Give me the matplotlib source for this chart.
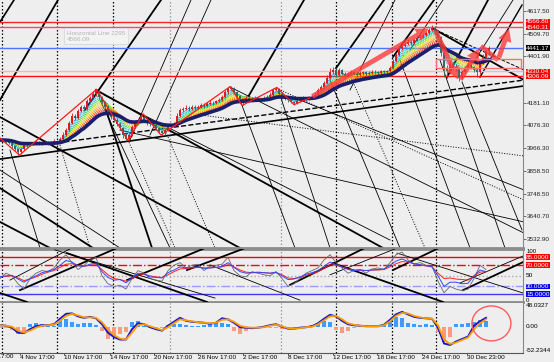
import numpy as np
import pandas as pd
import matplotlib
matplotlib.use("Agg")
import matplotlib.pyplot as plt
from matplotlib.patches import FancyArrowPatch, Rectangle, Ellipse
from matplotlib.transforms import blended_transform_factory as btf
from matplotlib.colors import LinearSegmentedColormap

plt.rcParams['font.family'] = ['Liberation Sans', 'DejaVu Sans']

# ---------------- price data (bars) ----------------
close = [4004,4000,3998,3990,3975,3960,3945,3960,3978,3985,
         3982,3988,3992,3985,3990,3995,3988,3992,3998,3995,
         4010,4030,4050,4085,4120,4110,4140,4160,4150,4190,
         4205,4225,4235,4210,4185,4160,4140,4115,4100,4080,
         4060,4030,4010,4030,4065,4085,4100,4115,4095,4085,
         4080,4075,4060,4045,4035,4050,4065,4070,4080,4120,
         4145,4150,4158,4150,4160,4155,4162,4170,4165,4175,
         4182,4178,4188,4195,4210,4230,4248,4250,4230,4215,
         4198,4195,4205,4200,4198,4205,4200,4195,4205,4210,
         4220,4240,4248,4225,4210,4200,4195,4185,4178,4190,
         4200,4205,4198,4205,4210,4220,4240,4255,4275,4300,
         4325,4335,4315,4335,4320,4310,4318,4325,4320,4315,
         4322,4325,4318,4322,4328,4325,4322,4330,4325,4330,
         4345,4380,4410,4440,4450,4462,4470,4465,4480,4490,
         4495,4505,4512,4525,4535,4520,4495,4420,4340,4330,
         4365,4350,4345,4300,4325,4345,4360,4350,4335,4325,
         4370,4400,4425,4441]
high = [4015,4010,4006,4002,3994,3980,3965,3968,3985,3995,
        3992,3996,4005,3998,3998,4004,4000,4000,4008,4006,
        4018,4040,4060,4095,4130,4128,4150,4172,4168,4200,
        4215,4235,4245,4240,4215,4190,4168,4148,4125,4110,
        4088,4068,4038,4040,4075,4095,4110,4128,4120,4102,
        4095,4090,4082,4068,4052,4058,4072,4080,4090,4130,
        4155,4162,4168,4165,4170,4168,4172,4180,4178,4185,
        4192,4190,4196,4205,4220,4240,4258,4260,4255,4238,
        4220,4205,4215,4212,4208,4215,4210,4205,4215,4220,
        4230,4250,4256,4250,4230,4215,4205,4200,4190,4198,
        4210,4215,4210,4212,4220,4230,4250,4265,4285,4315,
        4345,4350,4345,4348,4340,4328,4328,4335,4332,4326,
        4330,4334,4330,4330,4336,4335,4330,4338,4336,4338,
        4355,4390,4420,4450,4462,4472,4482,4480,4490,4500,
        4506,4515,4522,4535,4550,4545,4528,4500,4428,4360,
        4380,4375,4365,4350,4335,4355,4372,4368,4355,4342,
        4380,4412,4438,4450]
low = [3998,3994,3990,3984,3968,3950,3932,3938,3955,3972,
       3975,3978,3982,3978,3980,3985,3980,3982,3986,3985,
       3990,4005,4025,4045,4080,4100,4105,4135,4140,4145,
       4185,4200,4215,4200,4175,4150,4130,4105,4090,4070,
       4050,4015,4000,4005,4025,4060,4080,4095,4088,4075,
       4070,4065,4050,4035,4025,4030,4045,4060,4065,4075,
       4115,4138,4145,4140,4145,4148,4150,4158,4158,4160,
       4170,4170,4175,4185,4190,4205,4225,4240,4222,4205,
       4185,4170,4190,4192,4188,4195,4190,4185,4190,4200,
       4205,4215,4235,4218,4200,4192,4185,4178,4172,4175,
       4185,4195,4190,4195,4200,4205,4215,4235,4250,4270,
       4295,4318,4305,4310,4312,4300,4305,4312,4312,4305,
       4310,4315,4310,4312,4318,4318,4314,4318,4318,4320,
       4325,4340,4375,4405,4432,4445,4455,4455,4460,4475,
       4482,4490,4500,4508,4520,4510,4485,4405,4305,4300,
       4320,4335,4330,4285,4295,4318,4340,4340,4325,4305,
       4320,4365,4395,4420]
open_first = 4010

ribbon_spans = [3, 4, 5, 6, 7, 8, 9, 10, 11, 12, 13, 14, 15, 16, 17]
slow_span = 20

# horizontal price lines and labels
hline_prices = [4566.80, 4540.31, 4441.17, 4330.04, 4306.09]
hline_colors = ['#ff2020', '#ff4a4a', '#4f74ff', '#f2b8b8', '#ff1010']
box_labels = ['4566.80', '4540.31', '4441.17', '4330.04', '4306.09']
box_colors = ['#ff0000', '#ff0000', '#000000', '#ff0000', '#ff0000']

price_ticks = [4617.50, 4509.70, 4401.90, 4181.10, 4076.30, 3966.30,
               3858.50, 3748.50, 3640.70, 3532.90]
price_tick_labels = ['4617.50', '4509.70', '4401.90', '4181.10', '4076.30',
                     '3966.30', '3858.50', '3748.50', '3640.70', '3532.90']

# zigzag (bar, price)
zz_bar = [0, 6.5, 12.7, 32.2, 42.7, 47.7, 53.7, 76.7, 80.7, 92.3, 98, 103.3]
zz_price = [4013, 3932, 4008, 4245, 4000, 4128, 4027, 4258, 4168, 4254, 4172, 4204]

# thick red forecast arrows (bar, price)
arrow_from = [(103.3, 4204), (144.7, 4537), (153.0, 4280), (160.3, 4451), (166.0, 4384)]
arrow_to = [(143.7, 4541), (153.0, 4280), (160.3, 4451), (166.0, 4384), (170.0, 4546)]
arrow_head = [True, True, True, False, True]

# rectangle zone (bar0, bar1, price_low, price_high)
zone = (145.3, 173.7, 4346, 4389)

# trend lines in main window: (bar0, price0, bar1, price1, width, style)
main_lines = [
    (0, 4565, 4.67, 4670, 1.2, '-'), (0, 4194, 19.33, 4670, 1.3, '-'),
    (28.33, 4147, 53.67, 4670, 1.3, '-'), (43.33, 4004, 63.67, 4670, 0.6, '-'),
    (50, 4028, 70.33, 4670, 0.6, '-'), (82.67, 4208, 101.33, 4670, 1.3, '-'),
    (112, 4346, 128, 4670, 1.3, '-'), (116.67, 4242, 131.67, 4670, 0.6, '-'),
    (131, 4399, 144.67, 4670, 1.3, '-'), (136.67, 4432, 147.67, 4670, 0.6, '-'),
    (149, 4303, 162.67, 4670, 1.3, '-'), (158.33, 4384, 171, 4670, 0.6, '-'),
    (160, 4303, 174, 4646, 1.0, '-'),
    (0, 3913, 174.67, 4261, 1.2, '-'), (19, 3990, 174.67, 4289, 1.0, '--'),
    (0, 4113, 80, 3490, 1.3, '-'), (32, 4242, 127.67, 3490, 1.3, '-'),
    (144, 4537, 174.67, 4289, 1.3, '-'), (0, 3775, 31, 3490, 1.3, '-'),
    (0, 3614, 16.67, 3490, 1.3, '-'),
    (76.67, 4256, 174.67, 3561, 0.6, '-'), (92, 4251, 174.67, 3718, 0.7, ':'),
    (34.67, 4218, 130, 3528, 0.6, '-'), (145.33, 4527, 174.67, 4337, 0.7, '--'),
    (66.67, 4123, 174.67, 3928, 0.7, ':'), (40, 4051, 174.67, 3614, 0.6, '-'),
    (100, 4194, 174.67, 3766, 0.6, '-'), (0, 3861, 40, 3490, 0.6, '-'),
    (35.33, 4147, 50.67, 3490, 1.3, '-'), (33.33, 4194, 56.67, 3490, 0.6, '-'),
    (42.67, 4004, 58.33, 3490, 0.7, ':'), (55, 4051, 71.67, 3490, 0.7, ':'),
    (80, 4194, 98.33, 3490, 0.6, '-'), (93.33, 4218, 110, 3490, 0.6, '-'),
    (110, 4289, 133.33, 3490, 0.6, '-'), (116.67, 4313, 141.67, 3490, 0.7, ':'),
    (133.33, 4384, 156.67, 3490, 0.6, '-'), (146.67, 4384, 168.33, 3490, 0.6, '-'),
    (154, 4280, 174, 3576, 0.6, '-'), (3.33, 3956, 13.33, 3490, 0.6, '-'),
    (20, 3980, 30, 3490, 0.7, ':'),
]

# period separators (bar position, colour)
sep_bars = [0.67, 19, 37.67, 56.67, 93.67, 112, 130.67, 145.33]
sep_colors = ['k', 'k', 'k', '#999999', '#999999', 'k', 'k', 'k']

# time axis
tick_bars = [6.67, 21.33, 36.67, 51.33, 66, 81, 96, 111, 125.67, 140.67, 155.67]
tick_labels = ['4 Nov 17:00', '10 Nov 17:00', '14 Nov 17:00', '20 Nov 17:00',
               '26 Nov 17:00', '2 Dec 17:00', '8 Dec 17:00', '12 Dec 17:00',
               '18 Dec 17:00', '24 Dec 17:00', '30 Dec 23:00']
cut_label_bar = -7.8
cut_label = '29 Oct 17:00'

# ---------------- oscillator window ----------------
ind_step = 2  # indicator sample every 2 bars
osc_blue = [48,50,51,44,38,45,50,56,59,62,
            70,79,76,69,68,72,74,58,47,42,
            43,37,46,55,54,48,47,46,56,61,
            67,65,66,67,64,65,66,68,75,66,
            58,55,56,57,56,55,57,50,43,44,
            48,53,56,60,68,76,71,67,62,60,
            61,60,61,62,63,70,78,82,77,73,
            71,69,67,50,30,38,38,35,36,50,
            61,58]
osc_red = [48,49,50,46,41,44,48,53,57,60,
           66,72,73,70,68,70,71,62,52,45,
           43,40,44,51,53,50,48,47,52,58,
           63,64,65,66,65,65,66,67,71,67,
           61,57,56,56,56,55,56,52,46,45,
           47,51,54,58,64,71,70,67,63,61,
           61,60,61,61,62,67,73,77,76,73,
           71,69,67,55,45,46,44,43,42,50,
           57,58]
osc_gray = [45,55,50,35,25,45,55,60,58,65,
            80,90,75,62,70,80,85,50,35,30,
            32,25,45,60,55,45,42,40,60,70,
            75,65,70,72,60,68,70,72,85,60,
            50,48,58,55,52,50,58,45,30,35,
            45,55,60,65,80,90,75,65,55,60,
            62,55,63,65,62,75,90,95,80,72,
            75,70,68,40,18,30,25,22,25,45,
            70,62]
osc_levels = [85, 70, 50, 30, 15]
osc_level_colors = ['#ff0000', '#ff0000', '#aaaaaa', '#9a9aff', '#3c3cff']
osc_level_styles = ['-', '-.', ':', '-.', '-']
osc_boxes = [(85, '85.0000', '#ff0000'), (70, '70.0000', '#ff0000'),
             (30, '30.0000', '#0000ee'), (15, '15.0000', '#0000ee')]
osc_lines = [
    (6.67, 23, 38.33, 101, 1.3), (3.33, 42, 23.33, 101, 0.6),
    (42.33, 42, 67.67, 101, 1.3), (62.33, 61, 81, 101, 1.3),
    (96.67, 33, 121, 101, 1.3), (131, 61, 145.67, 101, 1.3),
    (154.33, 23, 174.33, 76, 1.3), (153.33, 36.5, 174.33, 87.5, 0.6),
    (22.33, 93, 69, 0.6, 1.3), (18.33, 99, 71.67, 8, 0.6),
    (111, 74, 147.67, 0.6, 1.3), (132.33, 93, 174.33, 17.6, 0.6),
    (0, 17.6, 9, 0.6, 1.3), (70, 70.5, 100, 4, 0.6),
    (110, 52, 131.67, 101, 0.6),
]

# ---------------- MACD window ----------------
macd = [3,2,-2,-12,-13,-5,1,3,3,5,
        16,26,27,21,18,20,17,5,-12,-21,
        -26,-26,-5,7,5,-1,-5,-8,2,10,
        18,12,10,9,8,6,8,17,15,8,
        -1,-2,-3,-2,0,3,5,0,-4,-4,
        -2,-1,1,7,16,24,21,12,5,3,
        2,1,1,1,4,14,25,30,25,20,
        18,17,16,-2,-34,-37,-30,-25,-20,2,
        11,18]
signal = [3,2,0,-8,-12,-8,-2,2,3,4,
          12,22,26,23,19,19,18,9,-6,-17,
          -24,-26,-12,3,5,1,-3,-7,-1,7,
          15,13,11,9,8,7,8,14,15,10,
          2,-1,-2,-2,-1,2,4,1,-3,-4,
          -3,-1,0,5,13,21,22,15,7,4,
          2,1,1,1,3,11,22,28,27,22,
          19,17,16,3,-26,-35,-32,-27,-22,-5,
          7,15]
hist = [-2,-3,-6,-15,-12,6,8,6,3,2,
        15,16,10,5,7,8,3,-8,-24,-18,
        -14,-10,10,11,2,-3,-4,-2,4,5,
        6,3,2,2,4,6,7,8,6,-8,
        -14,-8,-4,-3,-2,-3,-2,-4,-5,-3,
        -2,-1,3,8,12,10,-6,-12,-8,-3,
        2,3,2,1,4,14,20,18,8,5,
        4,5,3,-10,-30,-20,6,5,8,10,
        14,12]
macd_max, macd_min = 48.0327, -52.2344
circle = (163.8, 6.7, 13, 70.7)

# ---------------- figure ----------------
BG = '#eeeeee'
FS = 4.6
W, H = 554, 362
fig = plt.figure(figsize=(W / 100, H / 100), dpi=100, facecolor=BG)


def make_ax(y0, y1):
    a = fig.add_axes([0, 1 - y1 / H, 523 / W, (y1 - y0) / H])
    a.set_facecolor(BG)
    a.set_xlim(0, 174.33)
    for s in ['left', 'top']:
        a.spines[s].set_visible(False)
    a.spines['right'].set_color('#888888')
    a.spines['bottom'].set_color('#8c8c8c')
    a.tick_params(axis='x', bottom=False, labelbottom=False)
    a.yaxis.tick_right()
    a.tick_params(axis='y', length=2, width=0.6, color='#555555', pad=1,
                  labelsize=FS, labelcolor='#222222')
    return a


ax = make_ax(0, 248)
ao = make_ax(249.4, 302.3)
am = make_ax(303, 352.5)
ax.set_ylim(3490.1, 4669.8)
ao.set_ylim(0, 100)
am.set_ylim(macd_min, macd_max)
ax.spines['bottom'].set_linewidth(2)
ao.spines['top'].set_visible(True)
ao.spines['top'].set_color('#8c8c8c')
ao.spines['top'].set_linewidth(2)
ao.spines['bottom'].set_linewidth(2)
am.spines['bottom'].set_color('#555555')

for a in (ax, ao, am):
    for b, c in zip(sep_bars, sep_colors):
        a.axvline(b, color=c, lw=0.9, ls=(0, (1.2, 1.6)), zorder=1)

# trend lines
for b0, p0, b1, p1, w, ls in main_lines:
    ax.plot([b0, b1], [p0, p1], color='black', lw=w, ls=ls, zorder=2)

# horizontal lines
for p, c in zip(hline_prices, hline_colors):
    ax.axhline(p, color=c, lw=1.0, zorder=3)

# ribbon + slow average computed from closes
cs = pd.Series(close, dtype=float)
idx = np.arange(len(close))
cmap = LinearSegmentedColormap.from_list(
    'rb', ['#1e78ff', '#00c8e0', '#00d040', '#90e000', '#f0e000',
           '#ffb000', '#ff7a00', '#ff4020', '#e01010'])
for j, sp in enumerate(ribbon_spans):
    e = cs.ewm(span=sp, adjust=False).mean()
    ax.plot(idx, e, color=cmap(j / (len(ribbon_spans) - 1)), lw=0.7,
            ls=(0, (1, 1)), zorder=4)
slow = cs.ewm(span=slow_span, adjust=False).mean()

# candles
opens = [open_first] + close[:-1]
ccol = ['#e01818' if c >= o else '#2f6b5e' for o, c in zip(opens, close)]
ax.vlines(idx, low, high, colors=ccol, lw=0.6, zorder=5)
ax.vlines(idx, opens, close, colors=ccol, lw=1.4, zorder=5)

ax.plot(idx, slow, color='#1b1f6b', lw=2.6, zorder=6, solid_capstyle='round')

# zigzag
ax.plot(zz_bar, zz_price, color='#ff1a1a', lw=0.9, zorder=7)

# forecast arrows
for (b0, p0), (b1, p1), hd in zip(arrow_from, arrow_to, arrow_head):
    if hd:
        arr = FancyArrowPatch((b0, p0), (b1, p1),
                              arrowstyle='simple,head_length=1.3,head_width=1.4,tail_width=0.5',
                              mutation_scale=7, color='#ff3a3a', alpha=0.8,
                              lw=0, zorder=8)
        ax.add_patch(arr)
    else:
        ax.plot([b0, b1], [p0, p1], color='#ff3a3a', alpha=0.8, lw=3.3,
                zorder=8, solid_capstyle='butt')

ax.add_patch(Rectangle((zone[0], zone[2]), zone[1] - zone[0], zone[3] - zone[2],
                       fill=False, ec='#ff7070', lw=1, zorder=8))

ax.text(22.3, 4524, 'Horizontal Line 2295\n4566.09', fontsize=FS, color='#b5b5b5',
        va='top', ha='left', linespacing=1.3, zorder=9,
        bbox=dict(boxstyle='square,pad=0.4', fc='#f3f3f3', ec='#dcdcdc', lw=0.8))

# right axis labels (main)
ax.set_yticks(price_ticks)
ax.set_yticklabels(price_tick_labels)
tr = btf(ax.transAxes, ax.transData)
for p, lab, c in zip(hline_prices, box_labels, box_colors):
    ax.text(1.006, p, lab, transform=tr, fontsize=FS, color='white', ha='left',
            va='center', clip_on=False, zorder=20,
            bbox=dict(boxstyle='square,pad=0.06', fc=c, ec='none'))

# oscillator window
for lv, c, ls in zip(osc_levels, osc_level_colors, osc_level_styles):
    ao.axhline(lv, color=c, lw=1.0, ls=ls, zorder=2)
for b0, v0, b1, v1, w in osc_lines:
    ao.plot([b0, b1], [v0, v1], color='black', lw=w, zorder=3)
ib = np.arange(len(osc_blue)) * ind_step
ao.plot(ib, osc_gray, color='#666666', lw=0.6, zorder=4)
ao.plot(ib, osc_red, color='#ff2020', lw=0.7, zorder=5)
ao.plot(ib, osc_blue, color='#3048ff', lw=0.7, zorder=6)
ao.set_yticks([])
tro = btf(ao.transAxes, ao.transData)
ao.text(1.006, 101, '100', transform=tro, fontsize=FS - 0.3, ha='left', va='top', clip_on=False)
ao.text(1.006, 50, '50', transform=tro, fontsize=FS, ha='left', va='center', clip_on=False)
ao.text(1.006, -1, '0', transform=tro, fontsize=FS - 0.3, ha='left', va='bottom', clip_on=False)
for v, lab, c in osc_boxes:
    ao.text(1.006, v, lab, transform=tro, fontsize=FS, color='white', ha='left',
            va='center', clip_on=False, zorder=20,
            bbox=dict(boxstyle='square,pad=0.06', fc=c, ec='none'))

# MACD window
im = np.arange(len(macd)) * ind_step
hc = ['#3d9cff' if v >= 0 else '#ff9a7a' for v in hist]
am.bar(im, hist, width=1.1, color=hc, lw=0, zorder=2)
am.plot(im, macd, color='#1515d0', lw=1.4, zorder=3)
am.plot(im, signal, color='#ff9a00', lw=1.3, zorder=4)
am.add_patch(Ellipse((circle[0], circle[1]), circle[2], circle[3], fill=False,
                     ec='#ff5a5a', lw=1, zorder=5))
am.set_yticks([])
trm = btf(am.transAxes, am.transData)
am.text(1.006, macd_max, '48.0327', transform=trm, fontsize=FS, ha='left', va='top', clip_on=False)
am.text(1.006, 0, '0.00', transform=trm, fontsize=FS, ha='left', va='center', clip_on=False)
am.text(1.006, macd_min, '-52.2344', transform=trm, fontsize=FS, ha='left', va='bottom', clip_on=False)

# time axis
am.tick_params(axis='x', bottom=True, labelbottom=True, length=1.5, width=0.6,
               color='#333333', pad=0.6, labelsize=FS)
am.set_xticks(tick_bars)
am.set_xticklabels(tick_labels)
for t in am.get_xticklabels():
    t.set_ha('left')
am.text(cut_label_bar, -0.03, cut_label, transform=btf(am.transData, am.transAxes),
        fontsize=FS, ha='left', va='top', clip_on=False)

fig.savefig('out.png', dpi=100, facecolor=BG)
